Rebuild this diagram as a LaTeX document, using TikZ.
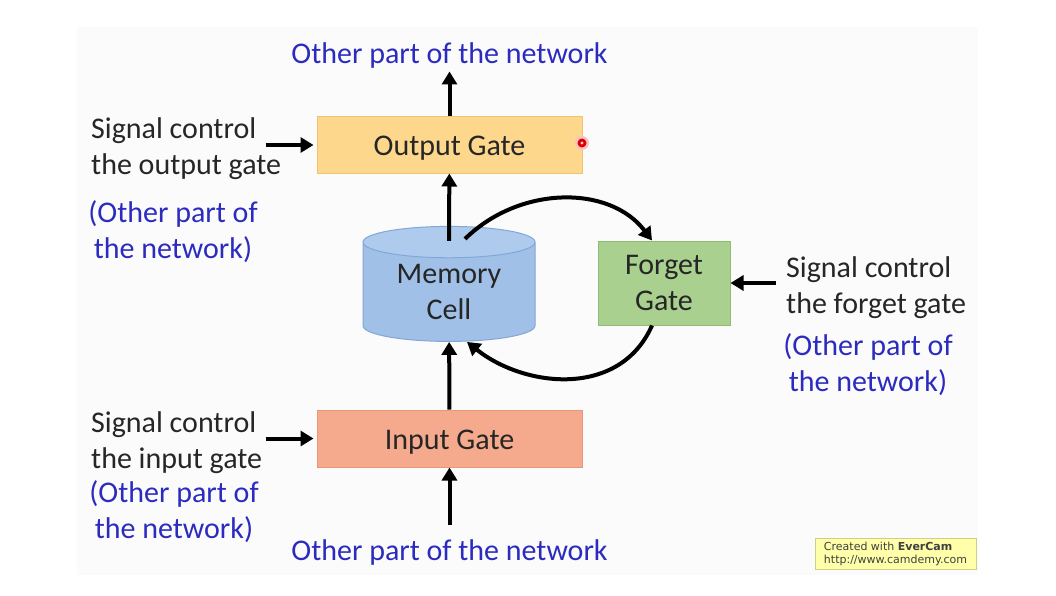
\documentclass[tikz,border=0pt]{standalone}
\usepackage{fontspec}
\setmainfont{Carlito}
\newfontfamily\camfont{DejaVu Sans}
\usetikzlibrary{arrows.meta,positioning,shapes.geometric}
\definecolor{lsslide}{HTML}{FBFBFB}
\definecolor{lstext}{HTML}{262626}
\definecolor{lsblue}{HTML}{2B2BBF}
\definecolor{lsout}{HTML}{FCD78C}
\definecolor{lsoutrim}{HTML}{F0C272}
\definecolor{lsin}{HTML}{F5A98D}
\definecolor{lsinrim}{HTML}{E9977A}
\definecolor{lsfg}{HTML}{A9D08E}
\definecolor{lsfgrim}{HTML}{8FBD72}
\definecolor{lsmem}{HTML}{A0C0E8}
\definecolor{lsmemtop}{HTML}{AECBEE}
\definecolor{lsmemrim}{HTML}{82A7D8}
\definecolor{lscam}{HTML}{FFFFAA}
\definecolor{lscamrim}{HTML}{CFCF86}

\begin{document}
\begin{tikzpicture}[
  x=1pt,y=-1pt,
  font=\fontsize{30}{36}\selectfont,
  gate/.style={draw,line width=1pt,text=lstext,align=center,inner sep=0pt},
  wide/.style={gate,minimum width=265pt,text height=27pt,text depth=5.8pt},
  sig/.style={text=lstext,align=left,inner sep=3pt,yshift=-3pt},
  note/.style={text=lsblue,align=center,inner sep=3pt,yshift=-3pt},
  arr/.style={-{Triangle[length=13pt,width=15pt]},line width=4pt,draw=black}
]
\useasboundingbox (0,0) rectangle (1056,596);
\fill[lsslide] (77,27) rectangle (978,575);

% gates and cell
\node[wide,fill=lsout,draw=lsoutrim,minimum height=56pt] (outg) at (449.5,145) {Output Gate};
\node[wide,fill=lsin,draw=lsinrim,minimum height=57pt] (inp) at (449.5,438.5) {Input Gate};
\node[gate,fill=lsfg,draw=lsfgrim,minimum width=132pt,minimum height=84pt] (fg) at (664,283) {Forget\\Gate};
\node[cylinder,shape border rotate=90,aspect=0.3,draw=lsmemrim,line width=1pt,
  cylinder uses custom fill,cylinder body fill=lsmem,cylinder end fill=lsmemtop,
  minimum width=172pt,minimum height=115pt,text=lstext,align=center,inner sep=0pt] (mem) at (449,292) {Memory\\Cell};

% labels
\node[note,above=48pt of outg] (topnet) {Other part of the network};
\node[note,below=66pt of inp] (botnet) {Other part of the network};
\node[sig,anchor=west] (sigout) at (88,146) {Signal control\\the output gate};
\node[note] (noteout) at (173,229) {(Other part of\\the network)};
\node[sig,anchor=west] (sigin) at (88,440) {Signal control\\the input gate};
\node[note] (notein) at (174,509) {(Other part of\\the network)};
\node[sig,anchor=west] (sigfg) at (783,285) {Signal control\\the forget gate};
\node[note] (notefg) at (868,362) {(Other part of\\the network)};

% connectors
\draw[arr] (outg) -- (topnet);
\draw[arr] ([yshift=-15pt]mem.north) -- (outg);
\draw[arr] (inp) -- (mem);
\draw[arr,shorten <=12pt] (botnet) -- (inp);
\draw[arr] ([xshift=-51pt]outg.west) -- ([xshift=-3pt]outg.west);
\draw[arr] ([xshift=-51pt]inp.west) -- ([xshift=-3pt]inp.west);
\draw[arr] ([xshift=45pt]fg.east) -- (fg.east);
\draw[arr] ([xshift=16pt,yshift=-13pt]mem.north) .. controls (520,185) and (610,185) .. ([xshift=-12pt]fg.north);
\draw[arr] ([xshift=-12pt]fg.south) .. controls (620,398) and (525,388) .. ([xshift=18pt]mem.south);

% cursor mark
\fill[red!25] (582,143) circle (7pt);
\fill[red!85!black] (582,143) circle (4.5pt);
\fill[red!20] (582,143) circle (1.6pt);

% recorder stamp
\node[draw=lscamrim,fill=lscam,minimum width=161pt,minimum height=31pt,align=left,
  font=\camfont\fontsize{11}{13}\selectfont,text=black!75] (cam) at (895.5,553.5)
  {Created with \textbf{EverCam}\\http://www.camdemy.com};
\end{tikzpicture}
\end{document}
